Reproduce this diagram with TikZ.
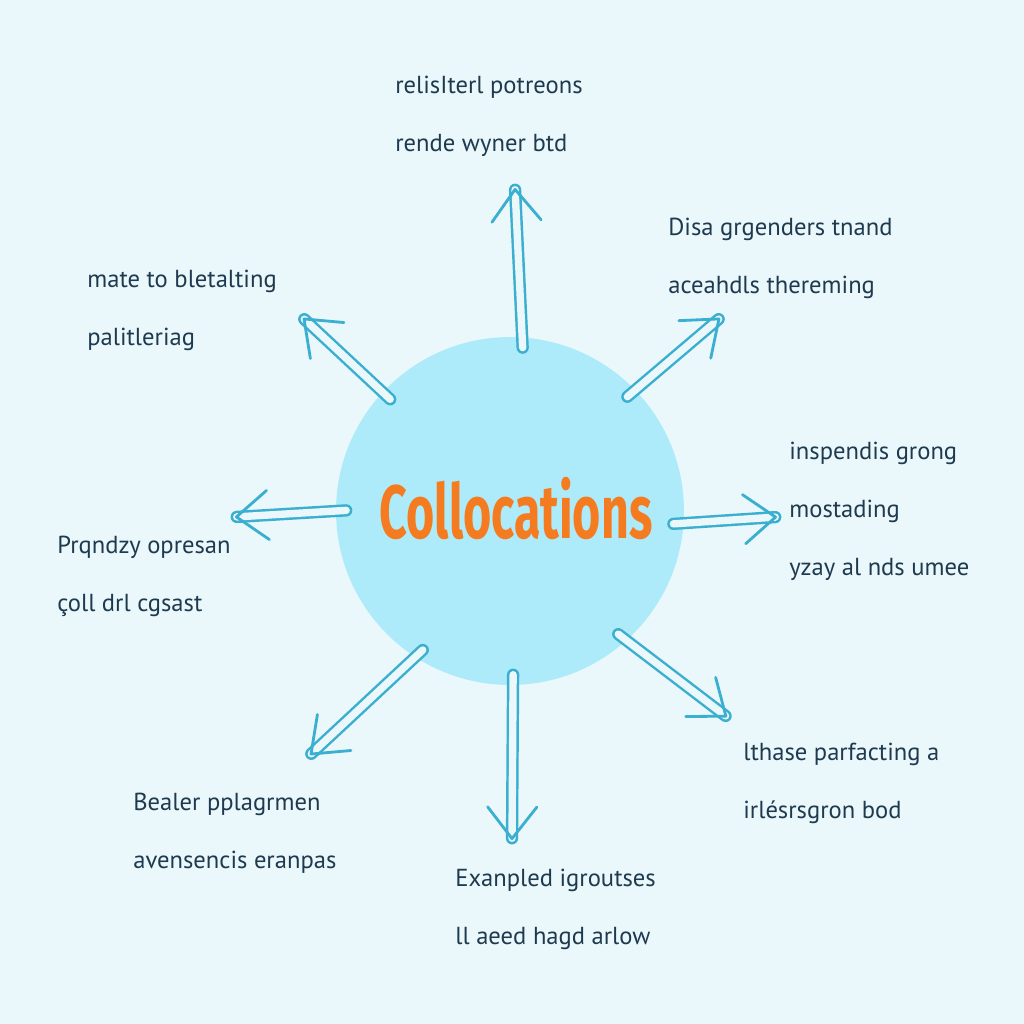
\documentclass[tikz,border=0pt]{standalone}
\usepackage{fontspec}
\setmainfont{PT Sans}
\newfontfamily\titlefont{Fira Sans}[FakeStretch=0.64]
\usepackage{xcolor}
\usetikzlibrary{arrows.meta,calc}
\definecolor{bgcol}{HTML}{EAF7FB}
\definecolor{circcol}{HTML}{ADEBFA}
\definecolor{arrowcol}{HTML}{3AAFCF}
\definecolor{inkcol}{HTML}{1E3A4F}
\definecolor{titlecol}{HTML}{F47B20}

\begin{document}
\begin{tikzpicture}[
  x=0.02cm, y=-0.02cm,
  lbl/.style={anchor=north west, inner sep=0pt, align=left, text=inkcol,
              font=\fontsize{14}{33}\selectfont},
  shaft/.style={draw=arrowcol, line width=1.4pt, double=bgcol, double distance=4.2pt,
                line cap=round, shorten <=-6pt, shorten >=1pt},
  head/.style={draw=arrowcol, line width=1.6pt,
               -{Straight Barb[length=18pt, width=28pt, round]}}
]

% Background
\fill[bgcol] (0,0) rectangle (1024,1024);

% Centre
\node[circle, fill=circcol, minimum size=6.96cm, inner sep=0pt] (circ) at (510,511) {};
\node[font=\titlefont\bfseries\fontsize{43}{43}\selectfont, text=titlecol] (title) at (516,509) {Collocations};

% Arrow tips
\coordinate (tip1) at (515,188);
\coordinate (tip2) at (720,318);
\coordinate (tip3) at (777,517);
\coordinate (tip4) at (727,717);
\coordinate (tip5) at (512,840);
\coordinate (tip6) at (310,755);
\coordinate (tip7) at (235,517);
\coordinate (tip8) at (303,318);

% Arrows
\draw[shaft] (circ.86) -- (tip1);
\draw[head] ($(tip1)!1pt!(circ.86)$) -- (tip1);
\draw[shaft] (circ.44) -- (tip2);
\draw[head] ($(tip2)!1pt!(circ.44)$) -- (tip2);
\draw[shaft] (circ.-4) -- (tip3);
\draw[head] ($(tip3)!1pt!(circ.-4)$) -- (tip3);
\draw[shaft] (circ.-48) -- (tip4);
\draw[head] ($(tip4)!1pt!(circ.-48)$) -- (tip4);
\draw[shaft] (circ.-89) -- (tip5);
\draw[head] ($(tip5)!1pt!(circ.-89)$) -- (tip5);
\draw[shaft] (circ.-123) -- (tip6);
\draw[head] ($(tip6)!1pt!(circ.-123)$) -- (tip6);
\draw[shaft] (circ.180) -- (tip7);
\draw[head] ($(tip7)!1pt!(circ.180)$) -- (tip7);
\draw[shaft] (circ.137) -- (tip8);
\draw[head] ($(tip8)!1pt!(circ.137)$) -- (tip8);

% Labels
\node[lbl] (lab1) at (395,76) {relisIterl potreons\\rende wyner btd};
\node[lbl] (lab2) at (668,218) {Disa grgenders tnand\\aceahdls thereming};
\node[lbl] (lab3) at (789,442) {inspendis grong\\mostading\\yzay al nds umee};
\node[lbl] (lab4) at (743,743) {lthase parfacting a\\irlésrsgron bod};
\node[lbl] (lab5) at (455,869) {Exanpled igroutses\\ll aeed hagd arlow};
\node[lbl] (lab6) at (133,793) {Bealer pplagrmen\\avensencis eranpas};
\node[lbl] (lab7) at (57,536) {Prqndzy opresan\\çoll drl cgsast};
\node[lbl] (lab8) at (87,270) {mate to bletalting\\palitleriag};

\end{tikzpicture}
\end{document}
